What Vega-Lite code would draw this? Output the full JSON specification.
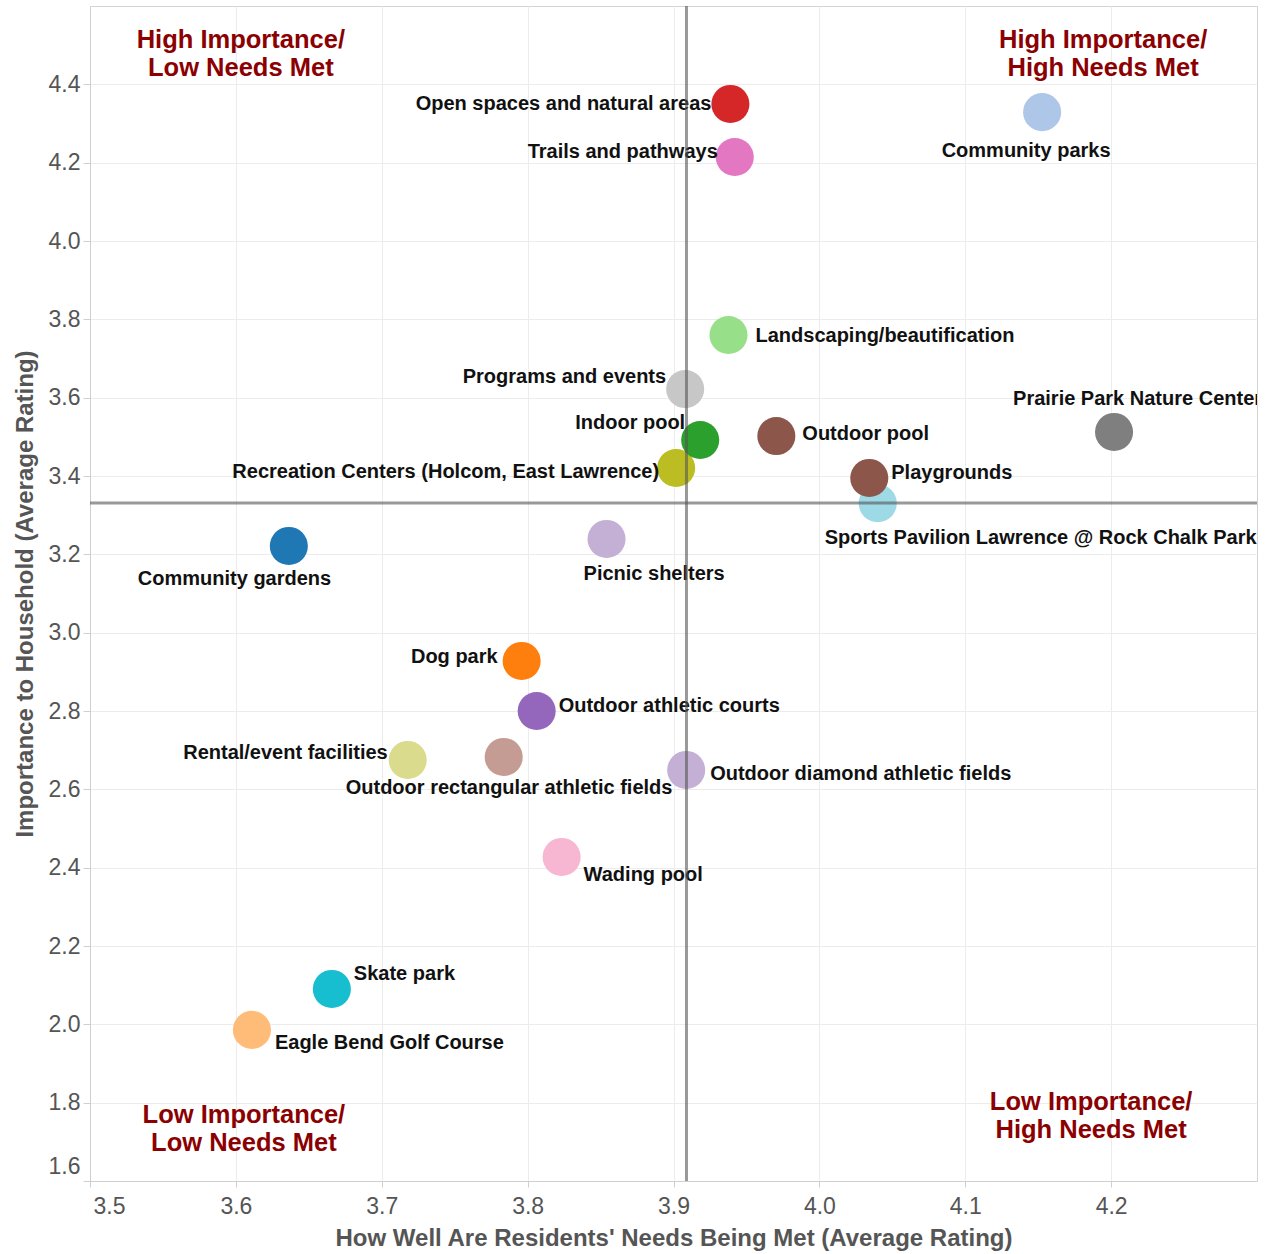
{
  "$schema": "https://vega.github.io/schema/vega-lite/v6.json",
  "autosize": {"type": "none"},
  "width": 1167,
  "height": 1175,
  "padding": {"left": 90, "top": 6, "right": 10, "bottom": 73},
  "background": "white",
  "config": {
    "font": "Liberation Sans",
    "view": {"stroke": "#d4d4d4", "strokeWidth": 1},
    "axis": {
      "domainColor": "#cfcfcf",
      "tickColor": "#cfcfcf",
      "gridColor": "#ececec",
      "gridWidth": 1,
      "labelColor": "#555555",
      "labelFont": "Liberation Sans",
      "labelFontSize": 23,
      "titleColor": "#555555",
      "titleFont": "Liberation Sans",
      "titleFontSize": 24,
      "titleFontWeight": "bold"
    }
  },
  "datasets": {
    "items": [
      {"name": "Open spaces and natural areas", "needsMet": 3.939, "importance": 4.350},
      {"name": "Trails and pathways", "needsMet": 3.942, "importance": 4.2145},
      {"name": "Community parks", "needsMet": 4.1527, "importance": 4.329},
      {"name": "Landscaping/beautification", "needsMet": 3.9377, "importance": 3.760},
      {"name": "Programs and events", "needsMet": 3.908, "importance": 3.622},
      {"name": "Recreation Centers (Holcom, East Lawrence)", "needsMet": 3.9018, "importance": 3.4205},
      {"name": "Indoor pool", "needsMet": 3.9183, "importance": 3.492},
      {"name": "Outdoor pool", "needsMet": 3.9705, "importance": 3.502},
      {"name": "Prairie Park Nature Center", "needsMet": 4.202, "importance": 3.5125},
      {"name": "Sports Pavilion Lawrence @ Rock Chalk Park", "needsMet": 4.040, "importance": 3.3304},
      {"name": "Playgrounds", "needsMet": 4.0342, "importance": 3.395},
      {"name": "Community gardens", "needsMet": 3.6363, "importance": 3.2214},
      {"name": "Picnic shelters", "needsMet": 3.8541, "importance": 3.2393},
      {"name": "Dog park", "needsMet": 3.7959, "importance": 2.9278},
      {"name": "Outdoor athletic courts", "needsMet": 3.8062, "importance": 2.800},
      {"name": "Rental/event facilities", "needsMet": 3.7178, "importance": 2.675},
      {"name": "Outdoor rectangular athletic fields", "needsMet": 3.7836, "importance": 2.6827},
      {"name": "Outdoor diamond athletic fields", "needsMet": 3.9087, "importance": 2.6495},
      {"name": "Wading pool", "needsMet": 3.8233, "importance": 2.4274},
      {"name": "Skate park", "needsMet": 3.6658, "importance": 2.0904},
      {"name": "Eagle Bend Golf Course", "needsMet": 3.611, "importance": 1.9858}
    ],
    "quadrants": [
      {"label": "High Importance/\nLow Needs Met", "qx": 3.6034, "qy": 4.4775},
      {"label": "High Importance/\nHigh Needs Met", "qx": 4.1945, "qy": 4.4775},
      {"label": "Low Importance/\nLow Needs Met", "qx": 3.6055, "qy": 1.733},
      {"label": "Low Importance/\nHigh Needs Met", "qx": 4.1863, "qy": 1.766}
    ],
    "refX": [{"v": 3.9089}],
    "refY": [{"v": 3.3312}]
  },
  "layer": [
    {
      "data": {"name": "items"},
      "encoding": {
        "x": {
          "field": "needsMet", "type": "quantitative",
          "scale": {"domain": [3.5, 4.3], "nice": false, "zero": false},
          "axis": {
            "title": "How Well Are Residents' Needs Being Met (Average Rating)",
            "values": [3.5, 3.6, 3.7, 3.8, 3.9, 4.0, 4.1, 4.2],
            "format": ".1f",
            "tickSize": 6,
            "labelPadding": 8,
            "labelFlush": true,
            "labelFlushOffset": -3,
            "titlePadding": 8
          }
        },
        "y": {
          "field": "importance", "type": "quantitative",
          "scale": {"domain": [1.6, 4.6], "nice": false, "zero": false},
          "axis": {
            "title": "Importance to Household (Average Rating)",
            "values": [1.6, 1.8, 2.0, 2.2, 2.4, 2.6, 2.8, 3.0, 3.2, 3.4, 3.6, 3.8, 4.0, 4.2, 4.4],
            "format": ".1f",
            "tickSize": 7,
            "labelPadding": 3,
            "labelFlush": true,
            "labelFlushOffset": -3,
            "titlePadding": 11
          }
        }
      },
      "layer": [
        {
          "mark": {"type": "circle", "size": 1450, "opacity": 1},
          "encoding": {
            "color": {
              "field": "name", "type": "nominal", "legend": null,
              "scale": {
                "domain": ["Open spaces and natural areas", "Trails and pathways", "Community parks", "Landscaping/beautification", "Programs and events", "Recreation Centers (Holcom, East Lawrence)", "Indoor pool", "Outdoor pool", "Prairie Park Nature Center", "Sports Pavilion Lawrence @ Rock Chalk Park", "Playgrounds", "Community gardens", "Picnic shelters", "Dog park", "Outdoor athletic courts", "Rental/event facilities", "Outdoor rectangular athletic fields", "Outdoor diamond athletic fields", "Wading pool", "Skate park", "Eagle Bend Golf Course"],
                "range": ["#d62728", "#e377c2", "#aec7e8", "#98df8a", "#c7c7c7", "#bcbd22", "#2ca02c", "#8c564b", "#7f7f7f", "#9edae5", "#8c564b", "#1f77b4", "#c5b0d5", "#ff7f0e", "#9467bd", "#dbdb8d", "#c49c94", "#c5b0d5", "#f7b6d2", "#17becf", "#ffbb78"]
              }
            }
          }
        },
        {"transform": [{"filter": "datum.name === 'Open spaces and natural areas'"}], "mark": {"type": "text", "align": "right", "baseline": "middle", "dx": -19, "dy": 0, "fontSize": 20, "fontWeight": "bold", "color": "#111", "clip": true}, "encoding": {"text": {"field": "name"}}},
        {"transform": [{"filter": "datum.name === 'Trails and pathways'"}], "mark": {"type": "text", "align": "right", "baseline": "middle", "dx": -17, "dy": -5, "fontSize": 20, "fontWeight": "bold", "color": "#111", "clip": true}, "encoding": {"text": {"field": "name"}}},
        {"transform": [{"filter": "datum.name === 'Community parks'"}], "mark": {"type": "text", "align": "center", "baseline": "middle", "dx": -16, "dy": 39, "fontSize": 20, "fontWeight": "bold", "color": "#111", "clip": true}, "encoding": {"text": {"field": "name"}}},
        {"transform": [{"filter": "datum.name === 'Landscaping/beautification'"}], "mark": {"type": "text", "align": "left", "baseline": "middle", "dx": 27, "dy": 1, "fontSize": 20, "fontWeight": "bold", "color": "#111", "clip": true}, "encoding": {"text": {"field": "name"}}},
        {"transform": [{"filter": "datum.name === 'Programs and events'"}], "mark": {"type": "text", "align": "right", "baseline": "middle", "dx": -19, "dy": -12, "fontSize": 20, "fontWeight": "bold", "color": "#111", "clip": true}, "encoding": {"text": {"field": "name"}}},
        {"transform": [{"filter": "datum.name === 'Indoor pool'"}], "mark": {"type": "text", "align": "right", "baseline": "middle", "dx": -15, "dy": -17, "fontSize": 20, "fontWeight": "bold", "color": "#111", "clip": true}, "encoding": {"text": {"field": "name"}}},
        {"transform": [{"filter": "datum.name === 'Recreation Centers (Holcom, East Lawrence)'"}], "mark": {"type": "text", "align": "right", "baseline": "middle", "dx": -17, "dy": 4, "fontSize": 20, "fontWeight": "bold", "color": "#111", "clip": true}, "encoding": {"text": {"field": "name"}}},
        {"transform": [{"filter": "datum.name === 'Outdoor pool'"}], "mark": {"type": "text", "align": "left", "baseline": "middle", "dx": 26, "dy": -2, "fontSize": 20, "fontWeight": "bold", "color": "#111", "clip": true}, "encoding": {"text": {"field": "name"}}},
        {"transform": [{"filter": "datum.name === 'Prairie Park Nature Center'"}], "mark": {"type": "text", "align": "left", "baseline": "middle", "dx": -101, "dy": -33, "fontSize": 20, "fontWeight": "bold", "color": "#111", "clip": true}, "encoding": {"text": {"field": "name"}}},
        {"transform": [{"filter": "datum.name === 'Playgrounds'"}], "mark": {"type": "text", "align": "left", "baseline": "middle", "dx": 22, "dy": -5, "fontSize": 20, "fontWeight": "bold", "color": "#111", "clip": true}, "encoding": {"text": {"field": "name"}}},
        {"transform": [{"filter": "datum.name === 'Sports Pavilion Lawrence @ Rock Chalk Park'"}], "mark": {"type": "text", "align": "left", "baseline": "middle", "dx": -53, "dy": 35, "fontSize": 20, "fontWeight": "bold", "color": "#111", "clip": true}, "encoding": {"text": {"field": "name"}}},
        {"transform": [{"filter": "datum.name === 'Community gardens'"}], "mark": {"type": "text", "align": "left", "baseline": "middle", "dx": -151, "dy": 33, "fontSize": 20, "fontWeight": "bold", "color": "#111", "clip": true}, "encoding": {"text": {"field": "name"}}},
        {"transform": [{"filter": "datum.name === 'Picnic shelters'"}], "mark": {"type": "text", "align": "left", "baseline": "middle", "dx": -23, "dy": 35, "fontSize": 20, "fontWeight": "bold", "color": "#111", "clip": true}, "encoding": {"text": {"field": "name"}}},
        {"transform": [{"filter": "datum.name === 'Dog park'"}], "mark": {"type": "text", "align": "right", "baseline": "middle", "dx": -24, "dy": -4, "fontSize": 20, "fontWeight": "bold", "color": "#111", "clip": true}, "encoding": {"text": {"field": "name"}}},
        {"transform": [{"filter": "datum.name === 'Outdoor athletic courts'"}], "mark": {"type": "text", "align": "left", "baseline": "middle", "dx": 22, "dy": -5, "fontSize": 20, "fontWeight": "bold", "color": "#111", "clip": true}, "encoding": {"text": {"field": "name"}}},
        {"transform": [{"filter": "datum.name === 'Rental/event facilities'"}], "mark": {"type": "text", "align": "right", "baseline": "middle", "dx": -20, "dy": -7, "fontSize": 20, "fontWeight": "bold", "color": "#111", "clip": true}, "encoding": {"text": {"field": "name"}}},
        {"transform": [{"filter": "datum.name === 'Outdoor rectangular athletic fields'"}], "mark": {"type": "text", "align": "left", "baseline": "middle", "dx": -158, "dy": 31, "fontSize": 20, "fontWeight": "bold", "color": "#111", "clip": true}, "encoding": {"text": {"field": "name"}}},
        {"transform": [{"filter": "datum.name === 'Outdoor diamond athletic fields'"}], "mark": {"type": "text", "align": "left", "baseline": "middle", "dx": 24, "dy": 4, "fontSize": 20, "fontWeight": "bold", "color": "#111", "clip": true}, "encoding": {"text": {"field": "name"}}},
        {"transform": [{"filter": "datum.name === 'Wading pool'"}], "mark": {"type": "text", "align": "left", "baseline": "middle", "dx": 22, "dy": 18, "fontSize": 20, "fontWeight": "bold", "color": "#111", "clip": true}, "encoding": {"text": {"field": "name"}}},
        {"transform": [{"filter": "datum.name === 'Skate park'"}], "mark": {"type": "text", "align": "left", "baseline": "middle", "dx": 22, "dy": -15, "fontSize": 20, "fontWeight": "bold", "color": "#111", "clip": true}, "encoding": {"text": {"field": "name"}}},
        {"transform": [{"filter": "datum.name === 'Eagle Bend Golf Course'"}], "mark": {"type": "text", "align": "left", "baseline": "middle", "dx": 23, "dy": 13, "fontSize": 20, "fontWeight": "bold", "color": "#111", "clip": true}, "encoding": {"text": {"field": "name"}}}
      ]
    },
    {
      "data": {"name": "refX"},
      "mark": {"type": "rule", "color": "#555555", "opacity": 0.6, "strokeWidth": 3},
      "encoding": {"x": {"field": "v", "type": "quantitative"}}
    },
    {
      "data": {"name": "refY"},
      "mark": {"type": "rule", "color": "#555555", "opacity": 0.6, "strokeWidth": 3},
      "encoding": {"y": {"field": "v", "type": "quantitative"}}
    },
    {
      "data": {"name": "quadrants"},
      "mark": {"type": "text", "align": "center", "baseline": "middle", "lineBreak": "\n", "lineHeight": 28, "dy": -13.5, "fontSize": 25.5, "fontWeight": "bold", "color": "#8b0000"},
      "encoding": {
        "x": {"field": "qx", "type": "quantitative"},
        "y": {"field": "qy", "type": "quantitative"},
        "text": {"field": "label"}
      }
    }
  ]
}
